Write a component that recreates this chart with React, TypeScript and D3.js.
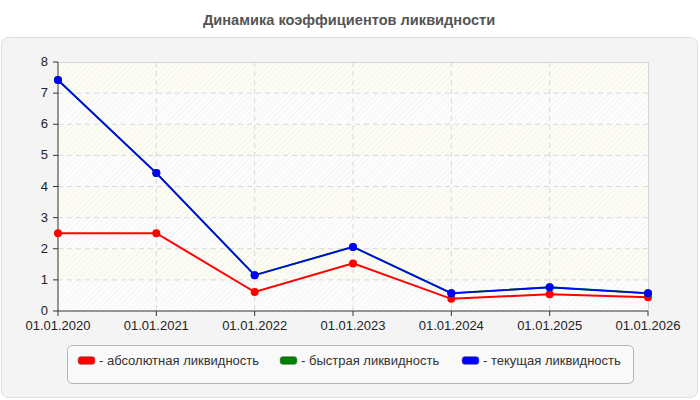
import * as d3 from "d3";

const dates = ["01.01.2020", "01.01.2021", "01.01.2022", "01.01.2023", "01.01.2024", "01.01.2025", "01.01.2026"];
const absolute = [2.5, 2.5, 0.61, 1.53, 0.39, 0.54, 0.44];
const quick = [7.42, 4.43, 1.15, 2.06, 0.57, 0.76, 0.57];
const current = [7.42, 4.43, 1.15, 2.06, 0.57, 0.76, 0.57];
const yTicks = [0, 1, 2, 3, 4, 5, 6, 7, 8];

const series = [
  { name: "- абсолютная ликвидность", color: "#ff0000", values: absolute, width: 2 },
  { name: "- быстрая ликвидность", color: "#008000", values: quick, width: 2 },
  { name: "- текущая ликвидность", color: "#0000ff", values: current, width: 1.6 },
];

const W = 700;
const H = 400;
const left = 58;
const right = 648;
const top = 62;
const bottom = 311;
const font = "Arial, 'Liberation Sans', sans-serif";

export default function App() {
  const x = d3.scalePoint<string>().domain(dates).range([left, right]);
  const y = d3.scaleLinear().domain([0, 8]).range([bottom, top]);

  const line = d3
    .line<number>()
    .x((_, i) => x(dates[i])!)
    .y((d) => y(d));

  const legendX = [78, 280, 462];

  return (
    <svg width={W} height={H} style={{ position: "absolute", left: 0, top: 0 }}>
      <defs>
        <pattern id="hatch" width="4" height="4" patternUnits="userSpaceOnUse" patternTransform="rotate(45)">
          <line x1="0" y1="0" x2="0" y2="4" stroke="#000" strokeOpacity="0.06" strokeWidth="1.2" />
        </pattern>
      </defs>
      <rect x={0} y={0} width={W} height={H} fill="#fff" />
      <text x={349} y={25} textAnchor="middle" fontFamily={font} fontWeight="bold" fontSize={14.6} fill="#555">
        Динамика коэффициентов ликвидности
      </text>
      <rect x={1.5} y={37.5} width={696} height={360} rx={7} fill="#f4f4f4" stroke="#dedede" />

      {/* alternating bands */}
      {yTicks.slice(0, -1).map((t) => (
        <rect
          key={"b" + t}
          x={left}
          y={y(t + 1)}
          width={right - left}
          height={y(t) - y(t + 1)}
          fill={t % 2 === 1 ? "#fdfdf6" : "#fdfdfd"}
        />
      ))}
      <rect x={left} y={top} width={right - left} height={bottom - top} fill="url(#hatch)" />

      {/* grid */}
      {yTicks.slice(1, -1).map((t) => (
        <line key={"gy" + t} x1={left} x2={right} y1={y(t)} y2={y(t)} stroke="#d8d8d8" strokeDasharray="5,4" />
      ))}
      {dates.slice(1, -1).map((d) => (
        <line key={"gx" + d} x1={x(d)} x2={x(d)} y1={top} y2={bottom} stroke="#d8d8d8" strokeDasharray="5,4" />
      ))}
      <path d={`M${left},${top + 0.5}H${right + 0.5}V${bottom}`} fill="none" stroke="#d6d6d6" />

      {/* axes */}
      <line x1={left} x2={left} y1={top} y2={bottom} stroke="#333" />
      <line x1={left} x2={right} y1={bottom} y2={bottom} stroke="#333" />
      {yTicks.map((t) => (
        <g key={"ty" + t}>
          <line x1={left - 5} x2={left} y1={y(t)} y2={y(t)} stroke="#333" />
          <text x={left - 10} y={y(t) + 4} textAnchor="end" fontFamily={font} fontSize={13} fill="#222">
            {t}
          </text>
        </g>
      ))}
      {dates.map((d) => (
        <g key={"tx" + d}>
          <line x1={x(d)} x2={x(d)} y1={bottom} y2={bottom + 5} stroke="#333" />
          <text x={x(d)} y={bottom + 19} textAnchor="middle" fontFamily={font} fontSize={13} fill="#222">
            {d}
          </text>
        </g>
      ))}

      {/* series */}
      {series.map((s) => (
        <g key={s.name}>
          <path d={line(s.values)!} fill="none" stroke={s.color} strokeWidth={s.width} />
          {s.values.map((v, i) => (
            <circle key={i} cx={x(dates[i])} cy={y(v)} r={4} fill={s.color} />
          ))}
        </g>
      ))}

      {/* legend */}
      <rect x={67.5} y={345.5} width={566} height={38} rx={5} fill="#f9f9f9" stroke="#b4b4b4" />
      {series.map((s, i) => (
        <g key={"l" + s.name}>
          <rect x={legendX[i]} y={356.5} width={17} height={8} rx={3} fill={s.color} stroke="#888" strokeWidth={0.5} />
          <text x={legendX[i] + 21} y={365} fontFamily={font} fontSize={13} fill="#333">
            {s.name}
          </text>
        </g>
      ))}
    </svg>
  );
}
